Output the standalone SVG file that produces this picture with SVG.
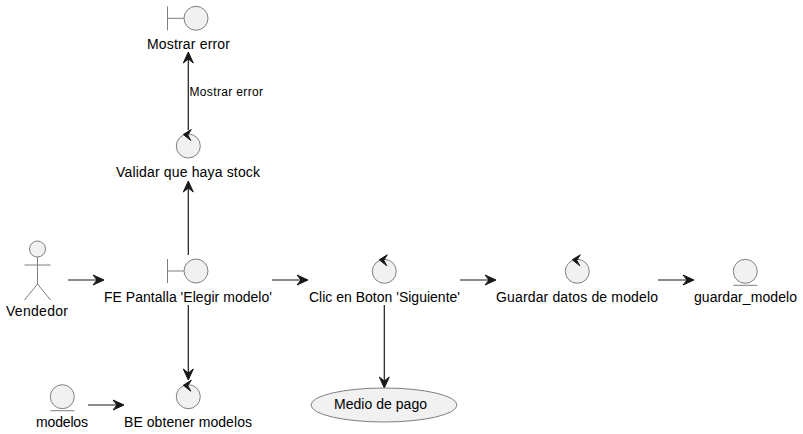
<svg xmlns="http://www.w3.org/2000/svg" width="803" height="434" viewBox="0 0 803 434">
<style>
text{font-family:"Liberation Sans",Arial,sans-serif;font-size:14px;fill:#000}
.s{fill:#f1f1f1;stroke:#7f7f7f;stroke-width:1}
.n{fill:none;stroke:#7f7f7f;stroke-width:1}
.c{fill:none;stroke:#181818;stroke-width:1.2}
.h{fill:#181818;stroke:#181818;stroke-width:1;stroke-linejoin:miter}
</style>
<defs>
<path id="r" class="h" d="M0,0L-11,-5L-7,0L-11,5Z"/>
<g id="boundary"><path class="n" d="M-28.500,-12V12M-28.500,0H-12"/><circle class="s" r="12"/></g>
<g id="control"><circle class="s" r="12"/><path class="h" d="M-5,-11.500L3,-16.500L-0.500,-11L2.500,-5.500Z"/></g>
<g id="entity"><circle class="s" r="12"/><path class="n" d="M-12,14H12"/></g>
</defs>
<g id="connectors">
<path class="c" d="M188.300,130V53"/><use href="#r" transform="translate(188.300,52) rotate(-90)"/>
<path class="c" d="M188.300,255V182"/><use href="#r" transform="translate(188.300,181) rotate(-90)"/>
<path class="c" d="M68,280H103"/><use href="#r" transform="translate(104,280)"/>
<path class="c" d="M272,280H307"/><use href="#r" transform="translate(308,280)"/>
<path class="c" d="M460,280H495"/><use href="#r" transform="translate(496,280)"/>
<path class="c" d="M658,280H693"/><use href="#r" transform="translate(694,280)"/>
<path class="c" d="M188.300,305V379"/><use href="#r" transform="translate(188.300,380) rotate(90)"/>
<path class="c" d="M88,405H123"/><use href="#r" transform="translate(124,405)"/>
<path class="c" d="M384.300,305V387"/><use href="#r" transform="translate(384.300,388) rotate(90)"/>
<text x="189.500" y="96" style="font-size:12px" textLength="73.500" lengthAdjust="spacing">Mostrar error</text>
</g>
<g id="mostrar_error"><use href="#boundary" transform="translate(196,18.300)"/><text x="147" y="49" textLength="83">Mostrar error</text></g>
<g id="validar"><use href="#control" transform="translate(188.300,146)"/><text x="116" y="177" textLength="144">Validar que haya stock</text></g>
<g id="vendedor"><circle class="s" cx="37.500" cy="249" r="8"/><path class="n" d="M37.500,257V284M24.500,265H50.500M37.500,284L24.500,300M37.500,284L50.500,300"/><text x="6" y="316" textLength="62">Vendedor</text></g>
<g id="fe_pantalla"><use href="#boundary" transform="translate(196,271)"/><text x="104" y="302" textLength="168">FE Pantalla 'Elegir modelo'</text></g>
<g id="clic"><use href="#control" transform="translate(384.300,271.300)"/><text x="309" y="302" textLength="151">Clic en Boton 'Siguiente'</text></g>
<g id="guardar"><use href="#control" transform="translate(577.300,271.300)"/><text x="496" y="302" textLength="162">Guardar datos de modelo</text></g>
<g id="guardar_modelo"><use href="#entity" transform="translate(745.300,271.300)"/><text x="694" y="302" textLength="103">guardar_modelo</text></g>
<g id="modelos"><use href="#entity" transform="translate(62.300,396.700)"/><text x="36" y="427" textLength="52">modelos</text></g>
<g id="be_obtener"><use href="#control" transform="translate(188.300,396.700)"/><text x="124" y="427" textLength="128">BE obtener modelos</text></g>
<g id="medio_pago"><ellipse class="s" cx="384" cy="405" rx="73" ry="17"/><text x="334" y="409" textLength="93">Medio de pago</text></g>
</svg>
